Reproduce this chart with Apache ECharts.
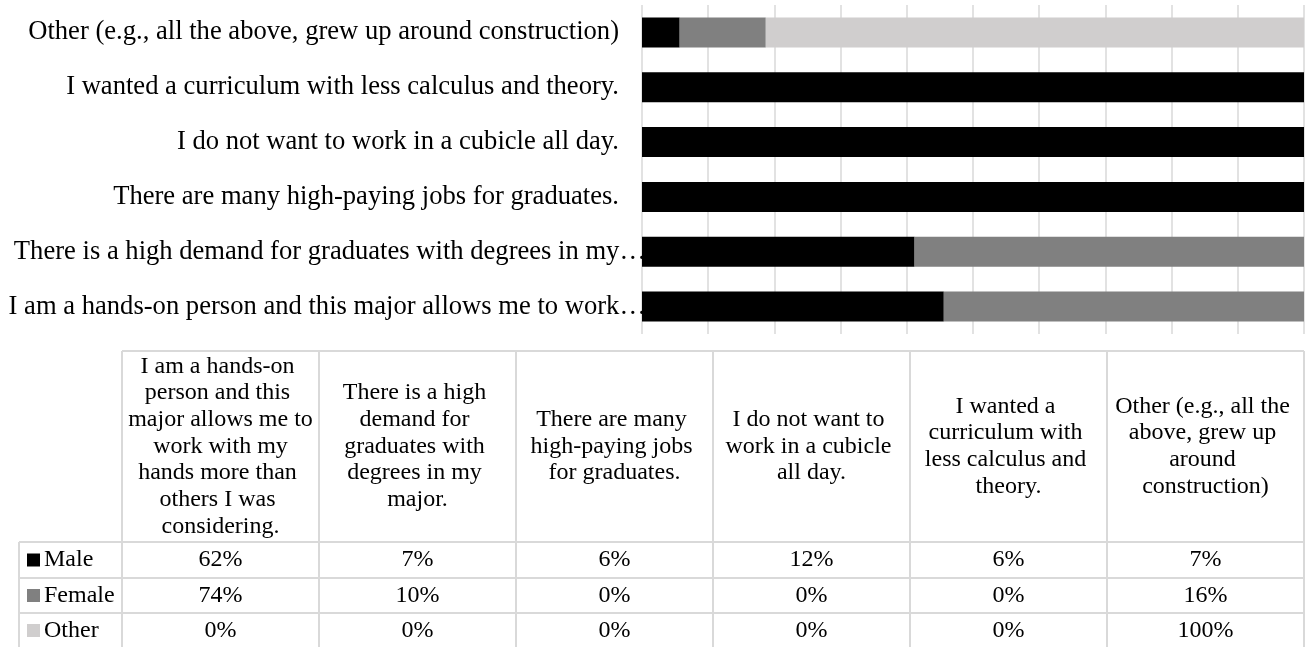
<!DOCTYPE html>
<html>
<head>
<meta charset="utf-8">
<script src="https://cdn.jsdelivr.net/npm/echarts@6/dist/echarts.min.js"></script>
<style>
  html, body { margin: 0; padding: 0; background: #ffffff; }
  #main { width: 1307px; height: 647px; }
</style>
</head>
<body>
<div id="main"></div>
<script>
// Reasons for choosing the major, by gender (share of each group)
const categories = [
  'I am a hands-on person and this major allows me to work with my hands more than others I was considering.',
  'There is a high demand for graduates with degrees in my major.',
  'There are many high-paying jobs for graduates.',
  'I do not want to work in a cubicle all day.',
  'I wanted a curriculum with less calculus and theory.',
  'Other (e.g., all the above, grew up around construction)'
];
const seriesNames = ['Male', 'Female', 'Other'];
const maleValues = [62, 7, 6, 12, 6, 7];
const femaleValues = [74, 10, 0, 0, 0, 16];
const otherValues = [0, 0, 0, 0, 0, 100];

const seriesValues = [maleValues, femaleValues, otherValues];
const seriesColors = ['#000000', '#808080', '#d0cece'];

const FONT = '"Liberation Serif", "Times New Roman", serif';
const LABEL_SIZE = 26.6;
const TABLE_SIZE = 24;
const LINE_COLOR = '#d9d9d9';

// 100% stacked: each bar segment is the group's value over the category total
const totals = categories.map((_, i) => seriesValues.reduce((s, arr) => s + arr[i], 0));
const shareOf = (arr) => arr.map((v, i) => (totals[i] ? v / totals[i] * 100 : 0));

// Word-level truncation of long axis labels
const measureCtx = document.createElement('canvas').getContext('2d');
measureCtx.font = LABEL_SIZE + 'px ' + FONT;
const SHORT_MAX = 615;
const CUT_MAX = 640;
function fitLabel(text) {
  if (measureCtx.measureText(text).width <= SHORT_MAX) return '{full|' + text + '}';
  const words = text.split(' ');
  while (words.length > 1 && measureCtx.measureText(words.join(' ') + '\u2026').width > CUT_MAX) {
    words.pop();
  }
  return '{cut|' + words.join(' ') + '\u2026}';
}

// Data table under the chart
const TABLE_LEFT = 19;
const HEAD_LEFT = 122;
const COL_W = 197;
const HEAD_TOP = 351;
const HEAD_BOTTOM = 542;
const ROW_EDGES = [542, 578, 613, 648];
const TABLE_RIGHT = HEAD_LEFT + COL_W * categories.length;

function buildTable() {
  const els = [];
  const line = (x1, y1, x2, y2) => els.push({
    type: 'line', silent: true,
    shape: { x1, y1, x2, y2 },
    style: { stroke: LINE_COLOR, lineWidth: 2 }
  });
  line(HEAD_LEFT, HEAD_TOP, TABLE_RIGHT, HEAD_TOP);
  ROW_EDGES.forEach(y => line(TABLE_LEFT, y, TABLE_RIGHT, y));
  line(TABLE_LEFT, HEAD_BOTTOM, TABLE_LEFT, ROW_EDGES[ROW_EDGES.length - 1]);
  for (let k = 0; k <= categories.length; k++) {
    const x = HEAD_LEFT + COL_W * k;
    line(x, HEAD_TOP, x, ROW_EDGES[ROW_EDGES.length - 1]);
  }
  // column headers
  categories.forEach((name, k) => {
    els.push({
      type: 'text', silent: true,
      x: HEAD_LEFT + COL_W * k + COL_W / 2,
      y: (HEAD_TOP + HEAD_BOTTOM) / 2,
      style: {
        text: name, width: 188, overflow: 'break',
        fontFamily: FONT, fontSize: TABLE_SIZE, lineHeight: 26.7,
        fill: '#000', align: 'center', verticalAlign: 'middle'
      }
    });
  });
  // legend keys and values
  seriesNames.forEach((name, r) => {
    const cy = (ROW_EDGES[r] + ROW_EDGES[r + 1]) / 2;
    els.push({
      type: 'rect', silent: true,
      shape: { x: 27, y: cy - 6.5, width: 13, height: 13 },
      style: { fill: seriesColors[r] }
    });
    els.push({
      type: 'text', silent: true, x: 44, y: cy,
      style: {
        text: name, fontFamily: FONT, fontSize: TABLE_SIZE,
        fill: '#000', align: 'left', verticalAlign: 'middle'
      }
    });
    seriesValues[r].forEach((v, k) => {
      els.push({
        type: 'text', silent: true,
        x: HEAD_LEFT + COL_W * k + COL_W / 2, y: cy,
        style: {
          text: v + '%', fontFamily: FONT, fontSize: TABLE_SIZE,
          fill: '#000', align: 'center', verticalAlign: 'middle'
        }
      });
    });
  });
  return els;
}

const chart = echarts.init(document.getElementById('main'), null, { renderer: 'canvas' });
chart.setOption({
  animation: false,
  backgroundColor: '#ffffff',
  grid: { left: 642, right: 3, top: 5, bottom: 313, containLabel: false },
  xAxis: {
    type: 'value', min: 0, max: 100, interval: 10,
    axisLine: { show: false }, axisTick: { show: false }, axisLabel: { show: false },
    splitLine: { show: true, lineStyle: { color: LINE_COLOR, width: 1.5 } }
  },
  yAxis: {
    type: 'category', data: categories,
    axisLine: { show: false }, axisTick: { show: false },
    axisLabel: {
      margin: -4,
      formatter: fitLabel,
      fontFamily: FONT, fontSize: LABEL_SIZE, color: '#000',
      rich: {
        full: { fontFamily: FONT, fontSize: LABEL_SIZE, color: '#000', padding: [0, 27, 0, 0] },
        cut: { fontFamily: FONT, fontSize: LABEL_SIZE, color: '#000' }
      }
    }
  },
  series: seriesNames.map((name, r) => ({
    name, type: 'bar', stack: 'total', barWidth: 30,
    itemStyle: { color: seriesColors[r] },
    data: shareOf(seriesValues[r])
  })),
  graphic: buildTable()
});
</script>
</body>
</html>
